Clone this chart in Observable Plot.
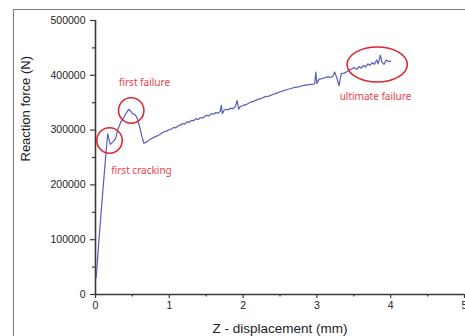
<!DOCTYPE html>
<html>
<head>
<meta charset="utf-8">
<script src="https://cdn.jsdelivr.net/npm/d3@7"></script>
<script src="https://cdn.jsdelivr.net/npm/@observablehq/plot@0.6"></script>
<style>
  html, body { margin: 0; padding: 0; background: #fff; overflow: hidden; width: 465px; height: 336px; }
  #frame { position: absolute; left: 13px; top: 9px; width: 600px; height: 500px; border: 1.5px solid #7a7a7a; box-sizing: border-box; }
  #chart { position: absolute; left: 0; top: 0; }
</style>
</head>
<body>
<div id="frame"></div>
<div id="chart"></div>
<script>
// Z displacement (mm)
const disp = [0.01, 0.05, 0.10, 0.14, 0.165, 0.20, 0.24, 0.27, 0.30, 0.34, 0.38, 0.42, 0.45, 0.48, 0.50, 0.54, 0.57, 0.60, 0.63, 0.655,
  0.70, 0.74, 0.78, 0.82, 0.86, 0.90, 0.93, 0.96, 1.00, 1.03, 1.06, 1.09, 1.12, 1.15, 1.18, 1.21, 1.24, 1.27, 1.30, 1.33,
  1.36, 1.39, 1.42, 1.45, 1.48, 1.51, 1.54, 1.57, 1.60, 1.63, 1.66, 1.69, 1.705, 1.72, 1.74, 1.77, 1.80, 1.83, 1.86, 1.89,
  1.92, 1.94, 1.96, 2.00, 2.05, 2.10, 2.15, 2.20, 2.25, 2.30, 2.35, 2.40, 2.45, 2.50, 2.55, 2.60, 2.65, 2.70, 2.75, 2.80,
  2.85, 2.90, 2.95, 2.97, 2.985, 3.00, 3.03, 3.07, 3.11, 3.15, 3.19, 3.22, 3.24, 3.27, 3.30, 3.33, 3.37, 3.41, 3.44, 3.48,
  3.51, 3.54, 3.57, 3.60, 3.63, 3.66, 3.69, 3.72, 3.75, 3.78, 3.81, 3.83, 3.86, 3.88, 3.91, 3.94, 3.97, 4.00];
// Reaction force (N)
const force = [31000, 105000, 190000, 255000, 293000, 274000, 279000, 284000, 300000, 314000, 322000, 332000, 338000, 334000, 330000, 328000, 320000, 305000, 288000, 276000,
  279000, 283000, 286000, 288500, 291000, 294500, 297000, 298000, 301000, 302000, 305000, 304000, 308000, 309000, 312000, 311000, 315000, 314000, 318000, 317000,
  321000, 319000, 323000, 322000, 325000, 327000, 326000, 330000, 329000, 332000, 331000, 334000, 345000, 330000, 336000, 338000, 337000, 340000, 339000, 342000,
  354000, 338000, 343000, 345000, 347000, 351000, 353000, 356000, 358000, 361000, 362000, 365000, 367000, 370000, 372000, 374000, 376000, 378000, 379000, 381000,
  382000, 383000, 384000, 384500, 406000, 385000, 393000, 394000, 396000, 397000, 396000, 399000, 406000, 395000, 381000, 403000, 404000, 407000, 410000, 412000,
  414000, 411000, 416000, 413000, 418000, 415000, 421000, 418000, 423000, 420000, 428000, 421000, 437000, 424000, 420000, 428000, 425000, 426000];

const xTicks = [0, 1, 2, 3, 4, 5];
const xMinor = [0.5, 1.5, 2.5, 3.5, 4.5];
const yTicks = [0, 100000, 200000, 300000, 400000, 500000];
const yMinor = [50000, 150000, 250000, 350000, 450000];

// annotations
const annoLabels = ["first cracking", "first failure", "ultimate failure"];
const annoLabelX = [0.623, 0.664, 3.794];
const annoLabelY = [226000, 385600, 361000];
const circleX = [0.19, 0.484];
const circleY = [281000, 335800];
const ellipseX = [3.817];
const ellipseY = [419700];

const data = disp.map((d, i) => ({x: d, y: force[i]}));
const labels = annoLabels.map((t, i) => ({t, x: annoLabelX[i], y: annoLabelY[i]}));
const circles = circleX.map((x, i) => ({x, y: circleY[i]}));
const ellipses = ellipseX.map((x, i) => ({x, y: ellipseY[i]}));

const ellipseSymbol = {
  draw(ctx, size) {
    const r = Math.sqrt(size / Math.PI);
    const a = r * 1.72, b = r, k = 0.5523;
    ctx.moveTo(a, 0);
    ctx.bezierCurveTo(a, k * b, k * a, b, 0, b);
    ctx.bezierCurveTo(-k * a, b, -a, k * b, -a, 0);
    ctx.bezierCurveTo(-a, -k * b, -k * a, -b, 0, -b);
    ctx.bezierCurveTo(k * a, -b, a, -k * b, a, 0);
    ctx.closePath();
  }
};

const font = "'Liberation Sans', Arial, sans-serif";
const axisColor = "#3a3a3a";

const chart = Plot.plot({
  width: 465,
  height: 336,
  marginLeft: 95,
  marginRight: 1,
  marginTop: 20,
  marginBottom: 42,
  style: {fontFamily: font, background: "transparent", overflow: "visible"},
  x: {domain: [0, 5], axis: null},
  y: {domain: [0, 500000], axis: null},
  marks: [
    Plot.axisY({ticks: yTicks, label: null, tickSize: 5, tickPadding: 5, tickFormat: d => String(d), fontSize: 10.5, stroke: axisColor, strokeWidth: 1.2, fill: "#222"}),
    Plot.axisY({ticks: yMinor, label: null, tickSize: 3, tickFormat: () => "", stroke: axisColor, strokeWidth: 1.2}),
    Plot.axisX({ticks: xTicks, label: null, tickSize: 4, tickPadding: 3, tickFormat: d => String(d), fontSize: 10.5, stroke: axisColor, strokeWidth: 1.2, fill: "#222"}),
    Plot.axisX({ticks: xMinor, label: null, tickSize: 2.5, tickFormat: () => "", stroke: axisColor, strokeWidth: 1.2}),
    Plot.ruleX([0], {y1: 0, y2: 500000, stroke: axisColor, strokeWidth: 1.6}),
    Plot.ruleY([0], {stroke: axisColor, strokeWidth: 1.6}),
    Plot.text(["Reaction force (N)"], {frameAnchor: "left", rotate: -90, dx: -70, dy: 4, fontSize: 13, fill: "#222"}),
    Plot.text(["Z - displacement (mm)"], {frameAnchor: "bottom", dy: 38, fontSize: 13.5, fill: "#222"}),
    Plot.line(data, {x: "x", y: "y", stroke: "#5a5cba", strokeWidth: 1.2}),
    Plot.dot(circles, {x: "x", y: "y", r: 12.7, stroke: "#e0262f", strokeWidth: 1.6, fill: "none"}),
    Plot.dot(ellipses, {x: "x", y: "y", r: 17.5, symbol: ellipseSymbol, stroke: "#e0262f", strokeWidth: 1.6, fill: "none"}),
    Plot.text(labels, {x: "x", y: "y", text: "t", fill: "#e8414b", fontSize: 10, fontFamily: "'Noto Sans', 'Open Sans', sans-serif"})
  ]
});
document.getElementById("chart").appendChild(chart);
</script>
</body>
</html>
